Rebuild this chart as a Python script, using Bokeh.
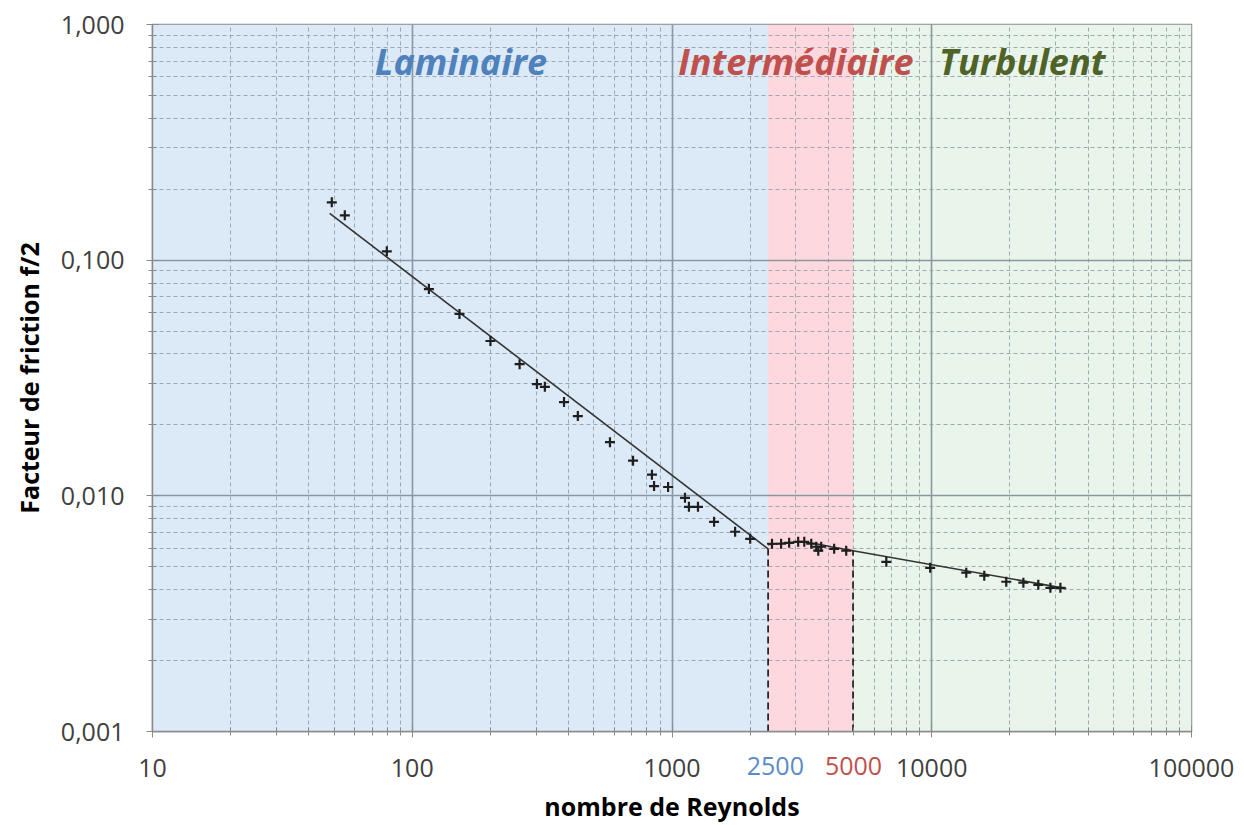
from bokeh.plotting import figure
from bokeh.models import FixedTicker, CustomJSTickFormatter, LogAxis
from bokeh.core.properties import value
from bokeh.embed import file_html
from bokeh.resources import INLINE

# ---- data ----
reynolds = [49.0, 55.0, 79.8, 115.9, 152, 200, 259, 302, 324, 384, 434, 577, 708,
            837, 853, 966, 1122, 1162, 1259, 1452, 1750, 2000,
            2427, 2630, 2825, 3060, 3230, 3437, 3592, 3657, 3753, 4210, 4685,
            6685, 9862, 13580, 15930, 19360, 22530, 25720, 28630, 31280]
friction = [0.176, 0.155, 0.109, 0.0754, 0.0591, 0.0454, 0.0362, 0.0298, 0.0290,
            0.0250, 0.0218, 0.0169, 0.0141, 0.0123, 0.0110, 0.0109, 0.00981,
            0.00898, 0.00898, 0.00776, 0.00704, 0.00657,
            0.00626, 0.00626, 0.00632, 0.00638, 0.00638, 0.00626, 0.00608,
            0.00585, 0.00608, 0.00596, 0.00585,
            0.00525, 0.00495, 0.00472, 0.00458, 0.00432, 0.00428, 0.00419,
            0.00407, 0.00407]

fit_lam_re = [48.1, 2344]
fit_lam_f = [0.158, 0.00596]
fit_tr_re = [2344, 2749, 3140, 3592, 4102, 4977]
fit_tr_f = [0.00620, 0.00632, 0.00638, 0.00626, 0.00608, 0.00585]
fit_tu_re = [4977, 32960]
fit_tu_f = [0.00585, 0.00404]

regime_names = ["Laminaire", "Intermédiaire", "Turbulent"]
regime_edges = [10, 2344, 4977, 100000]
regime_label_x = [154, 3000, 22300]
regime_bg = ["#dceaf8", "#fdd8de", "#e9f5eb"]
regime_colors = ["#4f81bd", "#c0504d", "#4f6228"]

x_major = [10, 100, 1000, 10000, 100000]
y_major = [0.001, 0.01, 0.1, 1.0]
extra_x_values = [2500, 5000]
extra_x_colors = ["#5b8bc6", "#c0504d"]

x_minor = [k * 10 ** d for d in range(1, 5) for k in range(2, 10)]
y_minor = [k * 10.0 ** d for d in range(-3, 0) for k in range(2, 10)]

FONT = "Open Sans"
TICK_SIZE = "25px"

p = figure(width=1236, height=825, x_axis_type="log", y_axis_type="log",
           x_range=(10, 100000), y_range=(0.001, 1.0),
           output_backend="svg", toolbar_location=None,
           min_border_left=152, min_border_right=45,
           min_border_top=24, min_border_bottom=93,
           background_fill_color="white", border_fill_color="white")

# background regions
p.quad(left=regime_edges[:-1], right=regime_edges[1:], bottom=y_major[0], top=y_major[-1],
       fill_color=regime_bg, line_color=None, level="image")

xax = p.xaxis[0]
yax = p.yaxis[0]
# axes / ticks
for ax, major, minor in ((xax, x_major, x_minor), (yax, y_major, y_minor)):
    ax.ticker = FixedTicker(ticks=major, minor_ticks=minor)
    ax.axis_line_color = "#8a8a8a"
    ax.axis_line_width = 1.5
    ax.major_tick_line_color = "#8a8a8a"
    ax.minor_tick_line_color = "#8a8a8a"
    ax.major_tick_in = 6
    ax.major_tick_out = 6
    ax.minor_tick_in = 4
    ax.minor_tick_out = 4
    ax.major_label_text_font = FONT
    ax.major_label_text_font_size = TICK_SIZE
    ax.major_label_text_color = "#404040"
    ax.axis_label_text_font = FONT
    ax.axis_label_text_font_size = "25px"
    ax.axis_label_text_font_style = "bold"
    ax.axis_label_text_color = "#000000"

xax.formatter = CustomJSTickFormatter(code="return tick.toFixed(0);")
yax.formatter = CustomJSTickFormatter(code="return tick.toFixed(3).replace('.', ',');")
yax.axis_label = "Facteur de friction f/2"
xax.major_label_standoff = 21
yax.major_label_standoff = 22
yax.axis_label_standoff = 12

# coloured tick labels 2500 / 5000 on extra label-only axes pulled up to the same row
extra_axes = []
for xv, c in zip(extra_x_values, extra_x_colors):
    ea = LogAxis(ticker=FixedTicker(ticks=[xv], minor_ticks=[]),
                 formatter=CustomJSTickFormatter(code="return tick.toFixed(0);"),
                 axis_line_color=None, major_tick_line_color=None,
                 minor_tick_line_color=None, major_tick_in=0, major_tick_out=0,
                 minor_tick_in=0, minor_tick_out=0, major_label_standoff=-23,
                 major_label_text_font=FONT, major_label_text_font_size=TICK_SIZE,
                 major_label_text_color=c)
    p.add_layout(ea, "below")
    extra_axes.append(ea)

last = extra_axes[-1]
last.axis_label = "nombre de Reynolds"
last.axis_label_text_font = FONT
last.axis_label_text_font_size = "25px"
last.axis_label_text_font_style = "bold"
last.axis_label_text_color = "#000000"
last.axis_label_standoff = 11

# grid
for g in (p.xgrid[0], p.ygrid[0]):
    g.grid_line_color = "#8a96a0"
    g.grid_line_width = 1.6
    g.minor_grid_line_color = "#97a1aa"
    g.minor_grid_line_width = 1
    g.minor_grid_line_dash = "4 3"
    g.minor_grid_line_alpha = 0.9
p.xgrid[0].ticker = xax.ticker
p.ygrid[0].ticker = yax.ticker

p.outline_line_color = "#8a8a8a"
p.outline_line_width = 1.5

# fit lines
p.line(fit_lam_re, fit_lam_f, line_color="#333333", line_width=1.6)
p.line(fit_tr_re, fit_tr_f, line_color="#333333", line_width=1.6)
p.line(fit_tu_re, fit_tu_f, line_color="#333333", line_width=1.6)

# dashed boundaries
p.segment(x0=[fit_lam_re[-1], fit_tu_re[0]], y0=[y_major[0], y_major[0]],
          x1=[fit_lam_re[-1], fit_tu_re[0]], y1=[fit_lam_f[-1], fit_tu_f[0]],
          line_color="#111111", line_width=1.6, line_dash="7 4")

# measured points
p.scatter(reynolds, friction, marker="cross", size=10, line_width=2.2,
          line_color="#1e1e1e")

# regime titles
p.text(x=regime_label_x, y=[0.70, 0.70, 0.70], text=regime_names,
       text_color=regime_colors, text_font=value(FONT), text_font_size="36px",
       text_font_style="bold italic", text_align="center", text_baseline="alphabetic")

open("out.html", "w").write(file_html(p, INLINE))
